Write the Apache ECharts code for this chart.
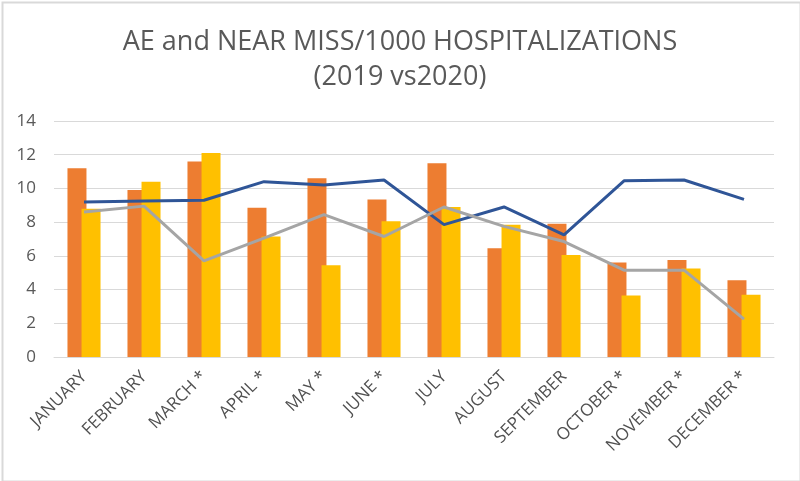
<!DOCTYPE html>
<html>
<head>
<meta charset="utf-8">
<script src="https://cdn.jsdelivr.net/npm/echarts@6/dist/echarts.min.js"></script>
<style>html,body{margin:0;padding:0;background:#fff}#c{width:800px;height:481px}</style>
</head>
<body>
<div id="c"></div>
<script>
var categories = ['JANUARY','FEBRUARY','MARCH *','APRIL *','MAY *','JUNE *','JULY','AUGUST','SEPTEMBER','OCTOBER *','NOVEMBER *','DECEMBER *'];
var bars2019 = [11.2, 9.9, 11.6, 8.85, 10.6, 9.35, 11.5, 6.45, 7.9, 5.6, 5.75, 4.55];
var bars2020 = [8.8, 10.4, 12.1, 7.15, 5.45, 8.05, 8.9, 7.85, 6.05, 3.65, 5.25, 3.7];
var line2019 = [9.2, 9.25, 9.3, 10.4, 10.2, 10.5, 7.85, 8.9, 7.25, 10.45, 10.5, 9.35];
var line2020 = [8.6, 8.95, 5.7, 7.05, 8.45, 7.15, 8.9, 7.75, 6.85, 5.15, 5.15, 2.25];
var yTicks = {min: 0, max: 14, interval: 2};

var chart = echarts.init(document.getElementById('c'), null, {renderer: 'canvas'});
chart.setOption({
  animation: false,
  backgroundColor: '#ffffff',
  graphic: [{
    type: 'rect', left: 0, top: 0,
    shape: {x: 0, y: 0, width: 798, height: 479},
    style: {fill: 'none', stroke: '#D9D9D9', lineWidth: 2}
  }],
  title: {
    text: 'AE and NEAR MISS/1000 HOSPITALIZATIONS\n(2019 vs2020)',
    left: 'center', top: 20,
    textStyle: {fontFamily: 'Open Sans', fontSize: 27, fontWeight: 'normal', color: '#595959', lineHeight: 35}
  },
  grid: {left: 54, right: 26, top: 121, bottom: 124},
  xAxis: {
    type: 'category', data: categories,
    axisLine: {lineStyle: {color: '#D9D9D9', width: 1}},
    axisTick: {show: false},
    axisLabel: {rotate: 45, margin: 17, color: '#505050', fontFamily: 'Open Sans', fontSize: 17, interval: 0}
  },
  yAxis: {
    type: 'value', min: yTicks.min, max: yTicks.max, interval: yTicks.interval,
    axisLine: {show: false}, axisTick: {show: false},
    splitLine: {lineStyle: {color: '#D9D9D9', width: 1}},
    axisLabel: {color: '#595959', fontFamily: 'Open Sans', fontSize: 17, margin: 18}
  },
  series: [
    {name: 'AE 2019', type: 'bar', data: bars2019, barWidth: 19, barGap: '-26%', itemStyle: {color: '#ED7D31'}},
    {name: 'AE 2020', type: 'bar', data: bars2020, barWidth: 19, barGap: '-26%', itemStyle: {color: '#FFC000'}},
    {name: 'NEAR MISS 2019', type: 'line', data: line2019, symbol: 'none', lineStyle: {color: '#2F5597', width: 3}, itemStyle: {color: '#2F5597'}},
    {name: 'NEAR MISS 2020', type: 'line', data: line2020, symbol: 'none', lineStyle: {color: '#A5A5A5', width: 3}, itemStyle: {color: '#A5A5A5'}}
  ]
});
</script>
</body>
</html>
